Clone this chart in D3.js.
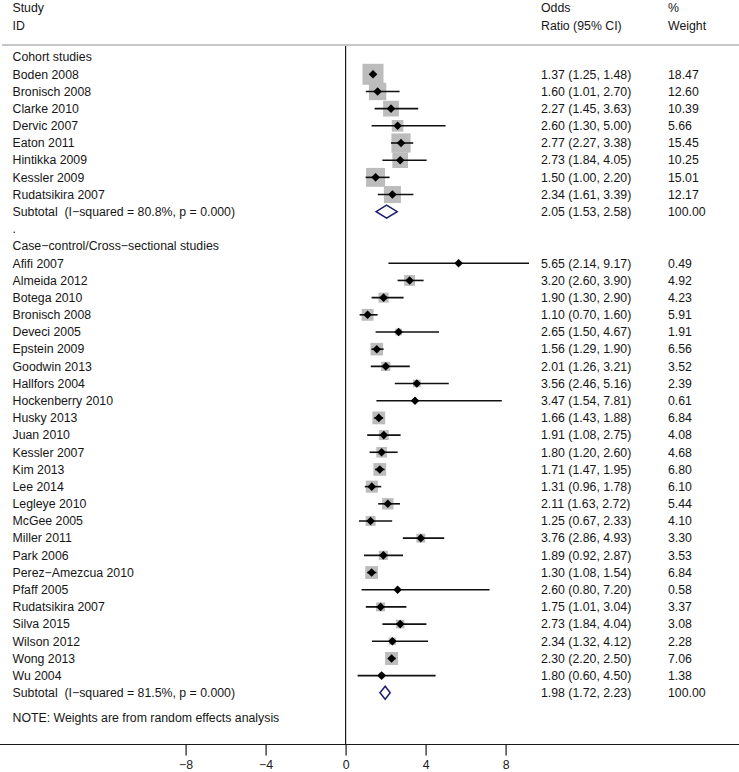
<!DOCTYPE html>
<html><head><meta charset="utf-8">
<script src="https://cdn.jsdelivr.net/npm/d3@7"></script>
<style>
html,body{margin:0;padding:0;background:#fff;}
svg text{font-family:"Liberation Sans",Arial,Helvetica,sans-serif;font-size:12.3px;fill:#161616;white-space:pre;}
</style></head>
<body>
<svg id="chart" width="739" height="772"></svg>
<script>
// ---- Data ----
const cohortStudies = ["Boden 2008","Bronisch 2008","Clarke 2010","Dervic 2007","Eaton 2011","Hintikka 2009","Kessler 2009","Rudatsikira 2007"];
const cohortOR  = [1.37,1.60,2.27,2.60,2.77,2.73,1.50,2.34];
const cohortLCI = [1.25,1.01,1.45,1.30,2.27,1.84,1.00,1.61];
const cohortUCI = [1.48,2.70,3.63,5.00,3.38,4.05,2.20,3.39];
const cohortWeight = [18.47,12.60,10.39,5.66,15.45,10.25,15.01,12.17];
const cohortSubtotal = {label:"Subtotal  (I\u2212squared = 80.8%, p = 0.000)", or:2.05, lci:1.53, uci:2.58, w:100.00};

const ccStudies = ["Afifi 2007","Almeida 2012","Botega 2010","Bronisch 2008","Deveci 2005","Epstein 2009","Goodwin 2013","Hallfors 2004","Hockenberry 2010","Husky 2013","Juan 2010","Kessler 2007","Kim 2013","Lee 2014","Legleye 2010","McGee 2005","Miller 2011","Park 2006","Perez\u2212Amezcua 2010","Pfaff 2005","Rudatsikira 2007","Silva 2015","Wilson 2012","Wong 2013","Wu 2004"];
const ccOR  = [5.65,3.20,1.90,1.10,2.65,1.56,2.01,3.56,3.47,1.66,1.91,1.80,1.71,1.31,2.11,1.25,3.76,1.89,1.30,2.60,1.75,2.73,2.34,2.30,1.80];
const ccLCI = [2.14,2.60,1.30,0.70,1.50,1.29,1.26,2.46,1.54,1.43,1.08,1.20,1.47,0.96,1.63,0.67,2.86,0.92,1.08,0.80,1.01,1.84,1.32,2.20,0.60];
const ccUCI = [9.17,3.90,2.90,1.60,4.67,1.90,3.21,5.16,7.81,1.88,2.75,2.60,1.95,1.78,2.72,2.33,4.93,2.87,1.54,7.20,3.04,4.04,4.12,2.50,4.50];
const ccWeight = [0.49,4.92,4.23,5.91,1.91,6.56,3.52,2.39,0.61,6.84,4.08,4.68,6.80,6.10,5.44,4.10,3.30,3.53,6.84,0.58,3.37,3.08,2.28,7.06,1.38];
const ccSubtotal = {label:"Subtotal  (I\u2212squared = 81.5%, p = 0.000)", or:1.98, lci:1.72, uci:2.23, w:100.00};

const xTicks = [-8,-4,0,4,8];
const groupLabels = ["Cohort studies","Case\u2212control/Cross\u2212sectional studies"];
const noteText = "NOTE: Weights are from random effects analysis";

// ---- Build rows ----
const rows = [];
function addGroup(label, names, or, lci, uci, w, sub){
  rows.push({type:"header", label});
  names.forEach((n,i)=>rows.push({type:"study", label:n, or:or[i], lci:lci[i], uci:uci[i], w:w[i]}));
  rows.push(Object.assign({type:"subtotal"}, sub));
}
addGroup(groupLabels[0], cohortStudies, cohortOR, cohortLCI, cohortUCI, cohortWeight, cohortSubtotal);
rows.push({type:"blank", label:"."});
addGroup(groupLabels[1], ccStudies, ccOR, ccLCI, ccUCI, ccWeight, ccSubtotal);
rows.forEach((r,i)=>r.i=i);

const svg = d3.select("#chart");
const x = d3.scaleLinear().domain([-8,8]).range([185.6,505.6]);
const y = d3.scaleLinear().domain([0,37]).range([57.1,692.8]);
const boxSide = d3.scaleSqrt().domain([0,18.47]).range([0,21]);
const fmt = d3.format(".2f");

const axisY = 744.5;
const headLineY = 45;

// header
const colStudy = 12.5, colOR = 541, colW = 668;
[["Study","ID",colStudy],["Odds","Ratio (95% CI)",colOR],["%","Weight",colW]].forEach(h=>{
  svg.append("text").attr("x",h[2]).attr("y",8).attr("dy","0.35em").text(h[0]);
  svg.append("text").attr("x",h[2]).attr("y",25.5).attr("dy","0.35em").text(h[1]);
});
svg.append("line").attr("x1",2).attr("x2",739).attr("y1",headLineY).attr("y2",headLineY)
  .attr("stroke","#b4b4b4").attr("stroke-width",1.6);

// null line
svg.append("line").attr("x1",x(0)).attr("x2",x(0)).attr("y1",headLineY+1).attr("y2",axisY)
  .attr("stroke","#1a1a1a").attr("stroke-width",1.2);

// labels
const g = svg.append("g");
g.selectAll("text.lab").data(rows).join("text").attr("class","lab")
  .attr("x",colStudy).attr("y",d=>y(d.i)).attr("dy","0.35em").text(d=>d.label);

const est = rows.filter(r=>r.type==="study"||r.type==="subtotal");
g.selectAll("text.or").data(est).join("text").attr("class","or")
  .attr("x",colOR).attr("y",d=>y(d.i)).attr("dy","0.35em")
  .text(d=>`${fmt(d.or)} (${fmt(d.lci)}, ${fmt(d.uci)})`);
g.selectAll("text.w").data(est).join("text").attr("class","w")
  .attr("x",colW).attr("y",d=>y(d.i)).attr("dy","0.35em").text(d=>fmt(d.w));

const studies = rows.filter(r=>r.type==="study");
// boxes
g.selectAll("rect.box").data(studies).join("rect").attr("class","box")
  .attr("x",d=>x(d.or)-boxSide(d.w)/2).attr("y",d=>y(d.i)-boxSide(d.w)/2)
  .attr("width",d=>boxSide(d.w)).attr("height",d=>boxSide(d.w))
  .attr("fill","#bcbcbc");
// CI lines
g.selectAll("line.ci").data(studies).join("line").attr("class","ci")
  .attr("x1",d=>x(d.lci)).attr("x2",d=>x(d.uci)).attr("y1",d=>y(d.i)).attr("y2",d=>y(d.i))
  .attr("stroke","#111").attr("stroke-width",1.6);
// point diamonds
const pd = 4.3;
g.selectAll("path.pt").data(studies).join("path").attr("class","pt")
  .attr("d",d=>{const cx=x(d.or), cy=y(d.i);return `M${cx-pd},${cy}L${cx},${cy-pd}L${cx+pd},${cy}L${cx},${cy+pd}Z`;})
  .attr("fill","#000");
// subtotal diamonds
const subs = rows.filter(r=>r.type==="subtotal");
const sh = 6.5;
g.selectAll("path.sub").data(subs).join("path").attr("class","sub")
  .attr("d",d=>{const cy=y(d.i);return `M${x(d.lci)},${cy}L${x(d.or)},${cy-sh}L${x(d.uci)},${cy}L${x(d.or)},${cy+sh}Z`;})
  .attr("fill","#fff").attr("stroke","#1c1c6e").attr("stroke-width",1.5);

// note
svg.append("text").attr("x",colStudy).attr("y",718).attr("dy","0.35em").text(noteText);

// axis
svg.append("line").attr("x1",0).attr("x2",739).attr("y1",axisY).attr("y2",axisY)
  .attr("stroke","#1a1a1a").attr("stroke-width",1.2);
const axis = d3.axisBottom(x).tickValues(xTicks).tickSize(11).tickPadding(5).tickFormat(d3.format("d"));
const ag = svg.append("g").attr("transform",`translate(0,${axisY})`).call(axis);
ag.select(".domain").remove();
ag.selectAll(".tick line").attr("stroke","#1a1a1a").attr("stroke-width",1.2);
ag.selectAll(".tick text").attr("font-family",null).attr("font-size",null).style("fill","#1a1a1a");
</script>
</body></html>
